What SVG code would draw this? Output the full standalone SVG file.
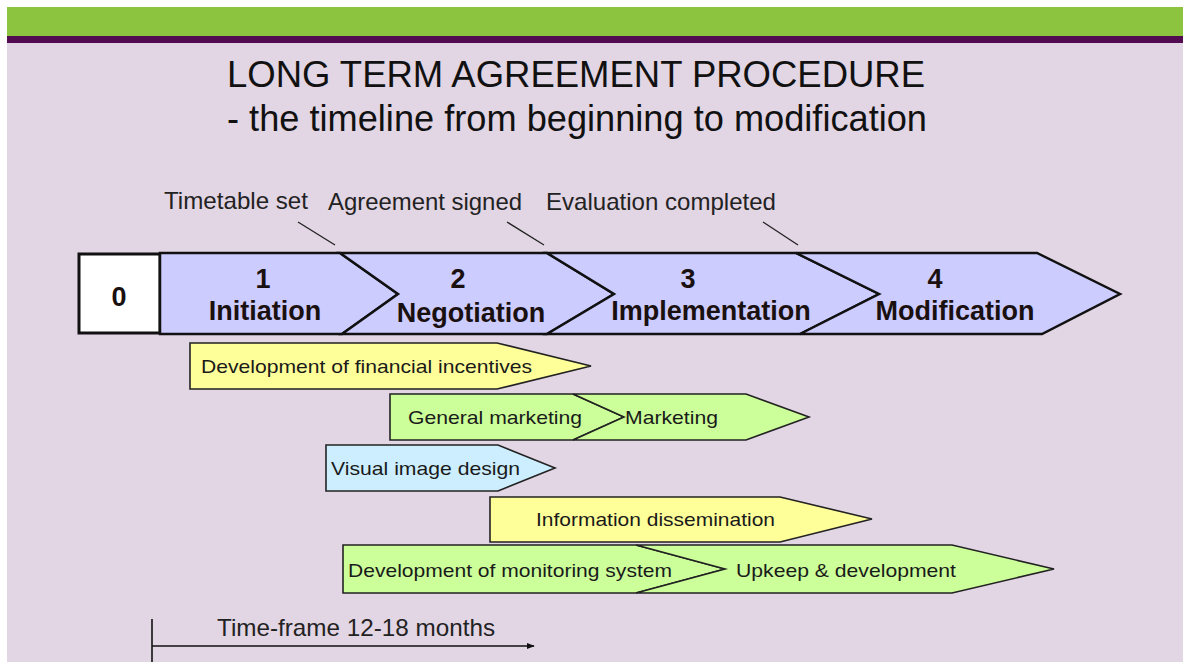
<svg xmlns="http://www.w3.org/2000/svg" width="1189" height="662" viewBox="0 0 1189 662">
<defs>
<style>
.bg{fill:#e2d5e4}
.phase{fill:#ccccff;stroke:#111;stroke-width:2.5;stroke-linejoin:miter}
.yel{fill:#ffff99;stroke:#222;stroke-width:1.6}
.grn{fill:#ccff99;stroke:#222;stroke-width:1.6}
.blu{fill:#cceeff;stroke:#222;stroke-width:1.6}
.title{font-family:"Liberation Sans",Arial,sans-serif;font-size:36px;fill:#111}
.ms{font-family:"Liberation Sans",Arial,sans-serif;font-size:24px;fill:#222}
.ph{font-family:"Liberation Sans",Arial,sans-serif;font-size:27px;font-weight:bold;fill:#1a1010;text-anchor:middle}
.act{font-family:"Liberation Sans",Arial,sans-serif;font-size:19px;fill:#1a1a1a}
.lead{stroke:#222;stroke-width:1.3}
</style>
<marker id="arr" viewBox="0 0 10 10" refX="9" refY="5" markerWidth="8" markerHeight="8" markerUnits="userSpaceOnUse" orient="auto">
<path d="M0,1 L10,5 L0,9 Z" fill="#111"/>
</marker>
</defs>
<rect x="0" y="0" width="1189" height="662" fill="#ffffff"/>
<rect class="bg" x="7" y="7" width="1176" height="655"/>
<rect x="7" y="7" width="1176" height="29" fill="#8cc43f"/>
<rect x="7" y="36" width="1176" height="7" fill="#520a50"/>

<g id="title">
<text class="title" x="227" y="87" textLength="698" lengthAdjust="spacingAndGlyphs">LONG TERM AGREEMENT PROCEDURE</text>
<text class="title" x="227" y="131" textLength="700" lengthAdjust="spacingAndGlyphs">- the timeline from beginning to modification</text>
</g>

<g id="milestones">
<text class="ms" x="164" y="209" textLength="144" lengthAdjust="spacingAndGlyphs">Timetable set</text>
<text class="ms" x="328" y="210" textLength="194" lengthAdjust="spacingAndGlyphs">Agreement signed</text>
<text class="ms" x="546" y="210" textLength="230" lengthAdjust="spacingAndGlyphs">Evaluation completed</text>
</g>

<g id="connectors">
<line class="lead" x1="298" y1="222" x2="335" y2="245"/>
<line class="lead" x1="507" y1="222" x2="544" y2="245"/>
<line class="lead" x1="763" y1="222" x2="798" y2="245"/>
<line x1="152" y1="646" x2="534" y2="646" stroke="#111" stroke-width="1.6" marker-end="url(#arr)"/>
<line x1="152" y1="619" x2="152" y2="662" stroke="#111" stroke-width="1.6"/>
</g>

<g id="phase0">
<rect x="79" y="254" width="81" height="79" fill="#ffffff" stroke="#111" stroke-width="3"/>
<text class="ph" x="119" y="306" font-size="22">0</text>
</g>
<g id="phase1">
<polygon class="phase" points="160,253 340,253 398,294 342,334 160,334"/>
<text class="ph" x="263" y="288">1</text>
<text class="ph" x="265" y="320">Initiation</text>
</g>
<g id="phase2">
<polygon class="phase" points="340,253 547,253 614,294 547,334 342,334 398,294"/>
<text class="ph" x="458" y="288">2</text>
<text class="ph" x="471" y="322">Negotiation</text>
</g>
<g id="phase3">
<polygon class="phase" points="547,253 796,253 879,294 800,334 547,334 614,294"/>
<text class="ph" x="688" y="288">3</text>
<text class="ph" x="711" y="320">Implementation</text>
</g>
<g id="phase4">
<polygon class="phase" points="796,253 1037,253 1120,294 1042,334 800,334 879,294"/>
<text class="ph" x="935" y="288">4</text>
<text class="ph" x="955" y="320">Modification</text>
</g>

<g id="act-financial">
<polygon class="yel" points="190,343 497,343 591,366 497,389 190,389"/>
<text class="act" x="201" y="373" textLength="331" lengthAdjust="spacingAndGlyphs">Development of financial incentives</text>
</g>
<g id="act-general-marketing">
<polygon class="grn" points="390,394 573,394 624,417 573,440 390,440"/>
<text class="act" x="408" y="424" textLength="174" lengthAdjust="spacingAndGlyphs">General marketing</text>
</g>
<g id="act-marketing">
<polygon class="grn" points="573,394 746,394 809,417 746,440 573,440 624,417"/>
<text class="act" x="625" y="424" textLength="93" lengthAdjust="spacingAndGlyphs">Marketing</text>
</g>
<g id="act-visual">
<polygon class="blu" points="326,445 498,445 555,468 498,491 326,491"/>
<text class="act" x="331" y="475" textLength="189" lengthAdjust="spacingAndGlyphs">Visual image design</text>
</g>
<g id="act-information">
<polygon class="yel" points="490,497 780,497 872,519 780,542 490,542"/>
<text class="act" x="536" y="526" textLength="239" lengthAdjust="spacingAndGlyphs">Information dissemination</text>
</g>
<g id="act-monitoring">
<polygon class="grn" points="343,545 636,545 725,569 636,593 343,593"/>
<text class="act" x="348" y="577" textLength="324" lengthAdjust="spacingAndGlyphs">Development of monitoring system</text>
</g>
<g id="act-upkeep">
<polygon class="grn" points="636,545 952,545 1054,569 952,593 636,593 725,569"/>
<text class="act" x="736" y="577" textLength="220" lengthAdjust="spacingAndGlyphs">Upkeep &amp; development</text>
</g>

<g id="timeframe">
<text class="ms" x="217" y="636" textLength="278" lengthAdjust="spacingAndGlyphs">Time-frame 12-18 months</text>
</g>
</svg>
